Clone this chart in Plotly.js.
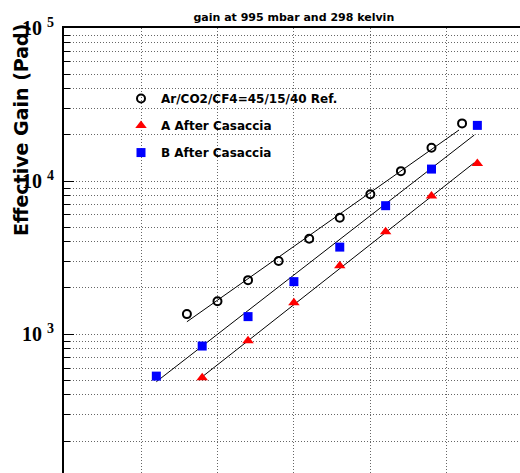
<!DOCTYPE html>
<html>
<head>
<meta charset="utf-8">
<script src="https://cdn.plot.ly/plotly-3.0.1.min.js"></script>
<style>html,body{margin:0;padding:0;background:#fff;}#chart{width:520px;height:473px;}</style>
</head>
<body>
<div id="chart"></div>
<script>
// Reference mixture Ar/CO2/CF4=45/15/40
const refX = [3380, 3400, 3420, 3440, 3460, 3480, 3500, 3520, 3540, 3560];
const refY = [1350, 1640, 2250, 3000, 4200, 5750, 8200, 11600, 16500, 23800];
// A After Casaccia
const aX = [3390, 3420, 3450, 3480, 3510, 3540, 3570];
const aY = [518, 904, 1600, 2790, 4670, 7980, 13000];
// B After Casaccia
const bX = [3360, 3390, 3420, 3450, 3480, 3510, 3540, 3570];
const bY = [531, 835, 1300, 2200, 3700, 6900, 11970, 23100];
// exponential fit lines (end points)
const fitRefX = [3380, 3558];
const fitRefY = [1203, 21540];
const fitAX = [3389, 3568];
const fitAY = [516, 13170];
const fitBX = [3360, 3568];
const fitBY = [488, 19980];

const names = ["Ar/CO2/CF4=45/15/40 Ref.", "A After Casaccia", "B After Casaccia"];
const majorTickVals = [1000, 10000, 100000];
const majorTickText = ["10&nbsp;<sup>3</sup>", "10&nbsp;<sup>4</sup>", "10&nbsp;<sup>5</sup>"];
const minorTickVals = [200, 300, 400, 500, 600, 700, 800, 900,
  2000, 3000, 4000, 5000, 6000, 7000, 8000, 9000,
  20000, 30000, 40000, 50000, 60000, 70000, 80000, 90000];

const gridDash = "1px,2px";
const gridColor = "#666";

const traces = [
  {x: fitRefX, y: fitRefY, mode: "lines", line: {color: "black", width: 1}, showlegend: false, hoverinfo: "skip"},
  {x: fitAX, y: fitAY, mode: "lines", line: {color: "black", width: 1}, showlegend: false, hoverinfo: "skip"},
  {x: fitBX, y: fitBY, mode: "lines", line: {color: "black", width: 1}, showlegend: false, hoverinfo: "skip"},
  {x: refX, y: refY, mode: "markers", name: names[0], legendgroup: "g1",
   marker: {symbol: "circle-open", size: 8, color: "black", line: {color: "black", width: 2}}},
  {x: aX, y: aY, mode: "markers", name: names[1], legendgroup: "g2",
   marker: {symbol: "triangle-up", size: 10, color: "#ff0000"}},
  {x: bX, y: bY, mode: "markers", name: names[2], legendgroup: "g3",
   marker: {symbol: "square", size: 9, color: "#0000ff"}}
];

const layout = {
  width: 520, height: 473,
  margin: {l: 64, r: 0, t: 28, b: 0, pad: 0},
  paper_bgcolor: "white", plot_bgcolor: "white",
  title: {text: "gain at 995 mbar and 298 kelvin", x: 0.504, xref: "paper", xanchor: "center",
          y: 0.964, yref: "container", yanchor: "middle",
          font: {family: "DejaVu Sans", size: 11, weight: "bold", color: "black"}},
  xaxis: {range: [3299.6, 3597.9], side: "top", showline: true, linecolor: "black", linewidth: 2,
          showticklabels: false, ticks: "", showgrid: true, tick0: 3300, dtick: 50,
          gridcolor: gridColor, griddash: gridDash, gridwidth: 1, zeroline: false},
  yaxis: {type: "log", range: [2.092, 5], tickmode: "array", tickvals: majorTickVals, ticktext: majorTickText,
          ticks: "inside", ticklen: 10, tickwidth: 1, tickcolor: "black",
          showline: true, linecolor: "black", linewidth: 2,
          showgrid: true, gridcolor: gridColor, griddash: gridDash, gridwidth: 1, zeroline: false,
          ticklabelstandoff: 4,
          tickfont: {family: "Liberation Serif", size: 20, weight: "bold", color: "black"},
          minor: {tickmode: "array", tickvals: minorTickVals, ticks: "inside", ticklen: 6, tickcolor: "black",
                  showgrid: true, gridcolor: gridColor, griddash: gridDash, gridwidth: 1}},
  legend: {x: 0.125, y: 0.874, xanchor: "left", yanchor: "top", bgcolor: "rgba(0,0,0,0)",
           borderwidth: 0, tracegroupgap: 8, traceorder: "grouped",
           font: {family: "DejaVu Sans", size: 12, weight: "bold", color: "black"}},
  annotations: [{text: "Effective Gain (Pad)", xref: "paper", yref: "paper", x: -0.0943, y: 0.771,
                 xanchor: "center", yanchor: "middle", textangle: -90, showarrow: false,
                 font: {family: "DejaVu Sans", size: 19, weight: "bold", color: "black"}}],
  showlegend: true
};

Plotly.newPlot("chart", traces, layout, {displayModeBar: false, staticPlot: true});
</script>
</body>
</html>
